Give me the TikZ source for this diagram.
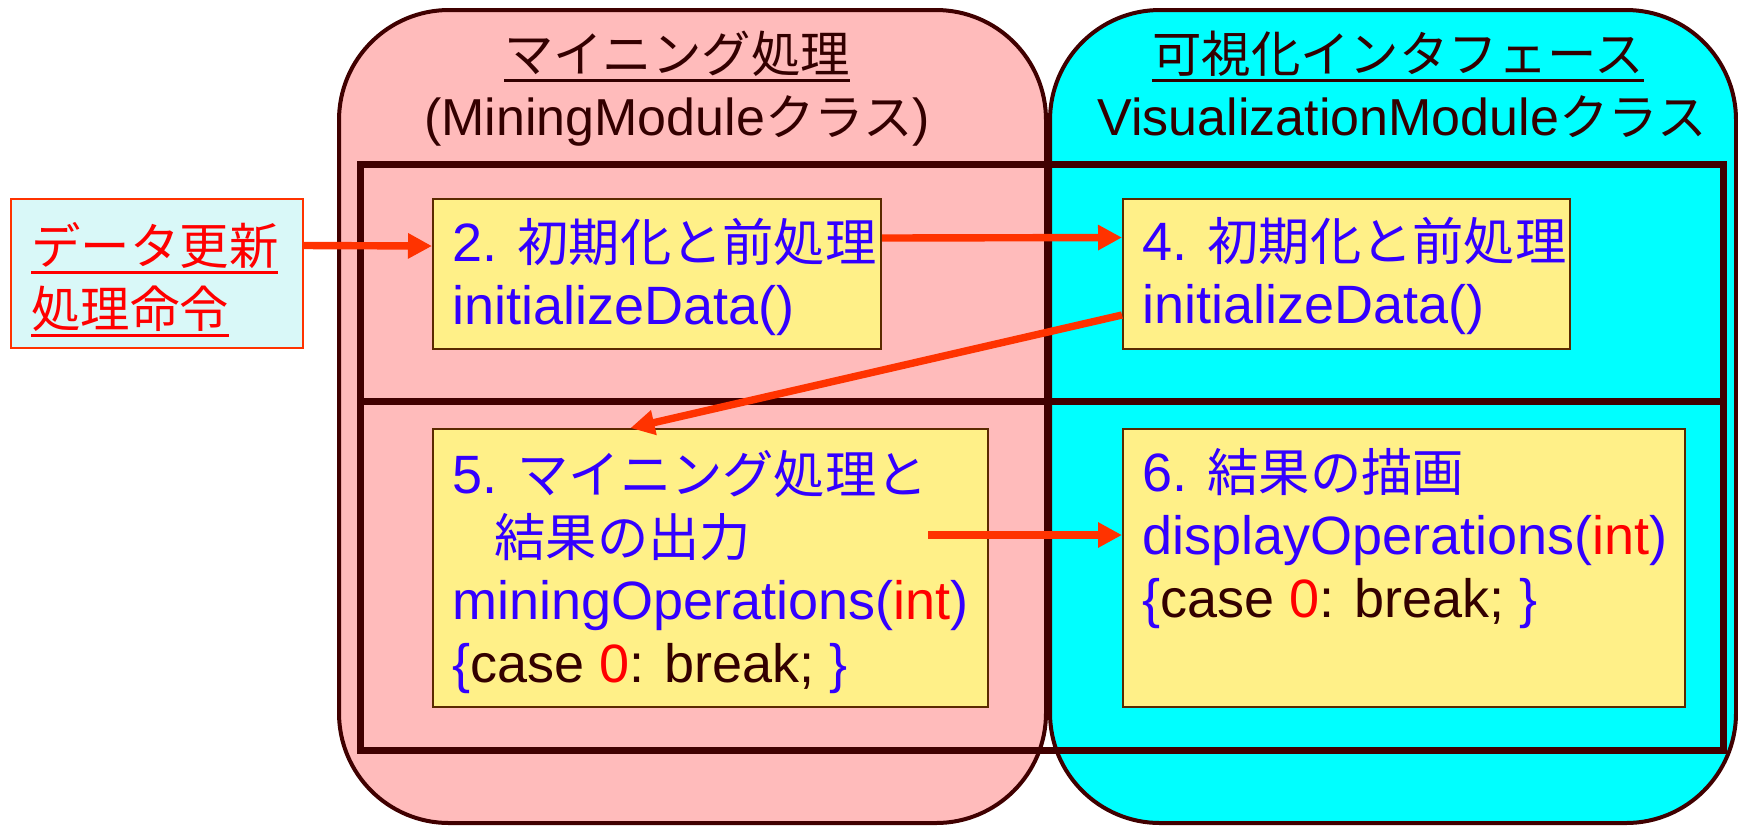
\documentclass[tikz,border=0pt]{standalone}
\usepackage{fontspec}
\setmainfont{Liberation Sans}
\newfontfamily\jp[Scale=0.95]{Noto Sans CJK JP}
\usetikzlibrary{arrows.meta}

\definecolor{pinkbg}{HTML}{FFBBBB}
\definecolor{cyanbg}{HTML}{00FFFF}
\definecolor{boxbg}{HTML}{FFF088}
\definecolor{boxline}{HTML}{5A2A00}
\definecolor{frame}{HTML}{400000}
\definecolor{txtblue}{HTML}{3300FF}
\definecolor{txtbrown}{HTML}{330000}
\definecolor{arrowred}{HTML}{FF3300}
\definecolor{cmdbg}{HTML}{D9F8F8}

\newcommand{\undl}[1]{\setbox0=\hbox{#1}\rlap{\rule[-5pt]{\wd0}{1.5pt}}\box0}

\begin{document}
\begin{tikzpicture}[x=0.5pt,y=-0.5pt,font=\fontsize{26}{31.5}\selectfont]
			\useasboundingbox (0,0) rectangle (1738,827);
			\begin{scope}[every node/.style={draw=frame,line width=2pt,rounded corners=55pt,inner sep=0pt}]
				\node[fill=pinkbg,minimum width=353.5pt,minimum height=406.5pt] (M) at (692.5,416.5) {};
				\node[fill=cyanbg,minimum width=343pt,minimum height=406.5pt] (V) at (1393,416.5) {};
			\end{scope}
			
			\begin{scope}[every node/.style={draw=frame,line width=3.5pt,inner sep=0pt,minimum width=681.5pt}]
				\node[minimum height=118.5pt] (P1) at (1041.5,282.5) {};
				\node[minimum height=174.5pt] (P2) at (1041.5,575.5) {};
			\end{scope}
			
			\begin{scope}[every node/.style={text=txtbrown,inner sep=0pt,anchor=base}]
				\node (MT) at (677,72) {\jp\undl{マイニング処理}};
				\node (MC) at (677,135) {(MiningModule{\jp クラス})};
				\node (VT) at (1398,72) {\jp\undl{可視化インタフェース}};
				\node (VC) at (1402,135) {VisualizationModule{\jp クラス}};
			\end{scope}
			
			\node[draw=arrowred,fill=cmdbg,line width=1pt,inner sep=0pt,minimum width=146pt,minimum height=74.5pt] (C) at (157,273.5) {};
			\begin{scope}[every node/.style={draw=boxline,fill=boxbg,line width=1pt,inner sep=0pt}]
				\node[minimum width=224pt,minimum height=75pt] (B2) at (657,274) {};
				\node[minimum width=223.5pt,minimum height=75pt] (B4) at (1346.5,273.5) {};
				\node[minimum width=277.5pt,minimum height=139pt] (B5) at (710.5,568) {};
				\node[minimum width=281pt,minimum height=139pt] (B6) at (1404,568) {};
			\end{scope}
			
			\node[text=red,inner sep=0pt,align=left,anchor=base west] (TC) at ([shift={(21,129)}]C.north west) {\jp\undl{データ更新}\\\jp\undl{処理命令}};
			\begin{scope}[every node/.style={text=txtblue,inner sep=0pt,align=left,anchor=base west,font=\fontsize{27}{31.5}\selectfont}]
				\node (T2) at ([shift={(20,126)}]B2.north west) {2. {\jp 初期化と前処理}\\initializeData()};
				\node (T4) at ([shift={(20,126)}]B4.north west) {4. {\jp 初期化と前処理}\\initializeData()};
				\node (T5) at ([shift={(20,254)}]B5.north west) {5. {\jp マイニング処理と}\\\hspace*{21pt}{\jp 結果の出力}\\miningOperations({\color{red}int})\\\{{\color{txtbrown}case }{\color{red}0}{\color{txtbrown}: break; }\}};
				\node (T6) at ([shift={(20,189)}]B6.north west) {6. {\jp 結果の描画}\\displayOperations({\color{red}int})\\\{{\color{txtbrown}case }{\color{red}0}{\color{txtbrown}: break; }\}};
			\end{scope}
			
			\coordinate (A5) at (928,535);
			\begin{scope}[every edge/.style={draw=arrowred,line width=3.7pt}]
				\path [-{Triangle[length=12pt,width=12pt]}] ([yshift=14pt]C.east) edge ([yshift=14pt]B2.west);
				\path [-{Triangle[length=12pt,width=12pt]}] ([yshift=18pt]B2.east) edge ([yshift=18pt]B4.west);
				\path [-{Triangle[length=12pt,width=12pt]}] ([yshift=-20.75pt]B4.west) edge ([xshift=-40pt]B5.north);
				\path [-{Triangle[length=12pt,width=12pt]}] (A5) edge (A5 -| B6.west);
			\end{scope}
		\end{tikzpicture}
\end{document}
